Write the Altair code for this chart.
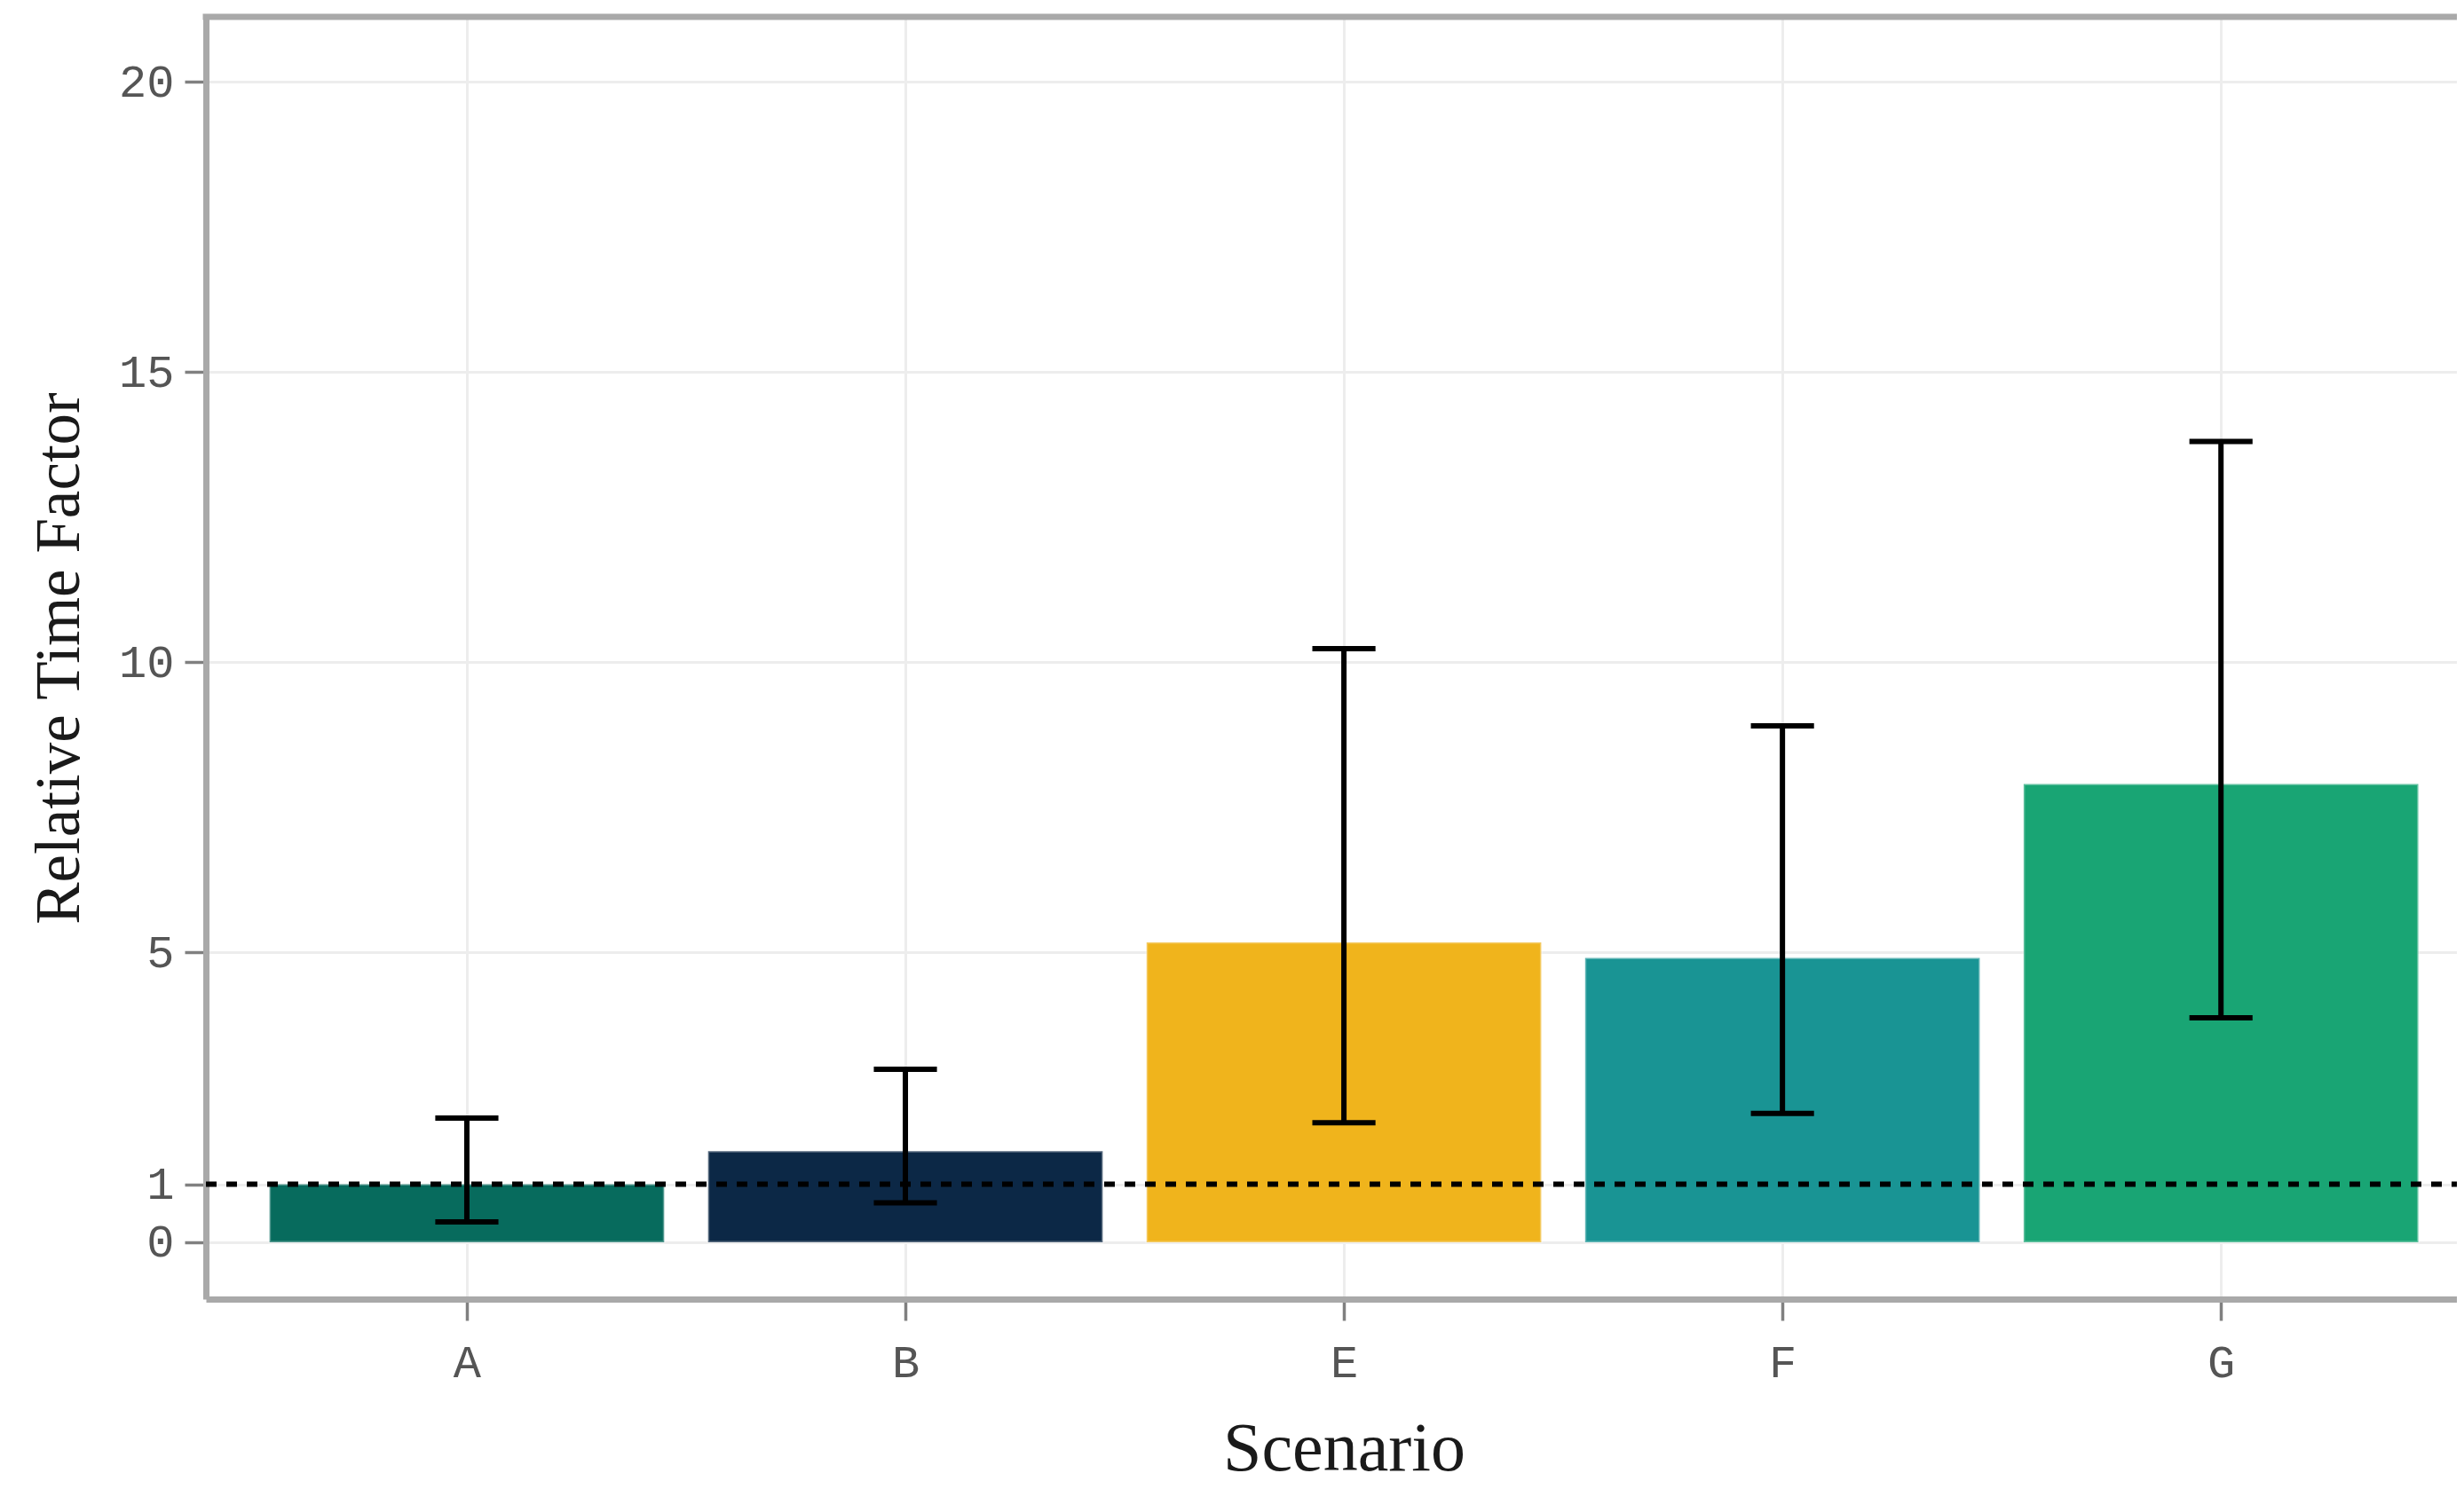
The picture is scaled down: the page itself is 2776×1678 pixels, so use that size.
import altair as alt
import pandas as pd

# ---- data ----
scenarios = ["A", "B", "E", "F", "G"]
time_factor = [1.0, 1.57, 5.17, 4.90, 7.90]
ci_low = [0.35, 0.68, 2.06, 2.22, 3.87]
ci_high = [2.14, 2.98, 10.23, 8.90, 13.80]
bar_colors = ["#076B5D", "#0C2846", "#F0B41C", "#199494", "#19A574"]
y_tick_values = [0, 1, 5, 10, 15, 20]
reference_level = [1]

# ---- layout ----
PLOT_W = 2536
PLOT_H = 1445
BORDER = "#A9A9A9"
GRID = "#EDEDED"

df = pd.DataFrame({
    "scenario": scenarios,
    "pos": list(range(len(scenarios))),
    "tf": time_factor,
    "lo": ci_low,
    "hi": ci_high,
})

label_expr = "[" + ",".join("'%s'" % s for s in scenarios) + "][datum.value]"

x_scale = alt.Scale(domain=[-0.595, 4.538], nice=False, zero=False)
y_scale = alt.Scale(domain=[-0.98, 21.12], nice=False, zero=False)

x_axis = alt.Axis(
    values=list(range(len(scenarios))), labelExpr=label_expr, title="Scenario",
    grid=True, titleX=1282, titleY=192, titleBaseline="alphabetic",
)
y_axis = alt.Axis(
    values=y_tick_values, format="d", title="Relative Time Factor", grid=True,
    titleX=-165, titleY=PLOT_H / 2, titleAngle=270, titleBaseline="middle",
    titleAlign="center",
)

base = alt.Chart(df)

bars = base.mark_bar(stroke="white", strokeOpacity=0.3, strokeWidth=3).transform_calculate(
    x0="datum.pos - 0.45", x1="datum.pos + 0.45"
).encode(
    x=alt.X("x0:Q", scale=x_scale, axis=x_axis),
    x2="x1:Q",
    y=alt.Y("tf:Q", scale=y_scale, axis=y_axis),
    y2=alt.datum(0),
    color=alt.Color("scenario:N", scale=alt.Scale(domain=scenarios, range=bar_colors), legend=None),
)

ref_line = alt.Chart(pd.DataFrame({"level": reference_level})).mark_rule(
    color="black", strokeWidth=6, strokeDash=[12, 11]
).encode(
    y=alt.Y("level:Q", scale=y_scale),
    x=alt.value(0),
    x2=alt.value(PLOT_W),
)

err_stem = base.mark_rule(color="black", strokeWidth=6).encode(
    x=alt.X("pos:Q", scale=x_scale),
    y=alt.Y("lo:Q", scale=y_scale),
    y2="hi:Q",
)

cap_hi = base.mark_rule(color="black", strokeWidth=6).transform_calculate(
    c0="datum.pos - 0.072", c1="datum.pos + 0.072"
).encode(
    x=alt.X("c0:Q", scale=x_scale), x2="c1:Q",
    y=alt.Y("hi:Q", scale=y_scale),
)

cap_lo = base.mark_rule(color="black", strokeWidth=6).transform_calculate(
    c0="datum.pos - 0.072", c1="datum.pos + 0.072"
).encode(
    x=alt.X("c0:Q", scale=x_scale), x2="c1:Q",
    y=alt.Y("lo:Q", scale=y_scale),
)

top_border = alt.Chart(pd.DataFrame({"edge": [0]})).mark_rule(
    color=BORDER, strokeWidth=7
).encode(
    x=alt.value(-3.5), x2=alt.value(PLOT_W), y=alt.value(0),
)

chart = alt.layer(bars, ref_line, err_stem, cap_hi, cap_lo, top_border).properties(
    width=PLOT_W,
    height=PLOT_H,
    autosize=alt.AutoSizeParams(type="none"),
    padding={"left": 224, "top": 11, "right": 0, "bottom": 214},
).configure_view(
    stroke=None
).configure_axis(
    labelFont="Liberation Mono",
    labelFontSize=52,
    labelColor="#555555",
    titleFont="Liberation Serif",
    titleFontSize=76,
    titleFontWeight="normal",
    titleColor="#1A1A1A",
    domainColor=BORDER,
    domainWidth=7,
    tickColor="#808080",
    tickWidth=3.5,
    tickSize=24,
    gridColor=GRID,
    gridWidth=3,
).configure_axisY(
    labelPadding=12,
    titleFontSize=71,
).configure_axisX(
    labelPadding=22,
    titleFontSize=78,
)

chart.save("out.html", embed_options={"renderer": "svg", "actions": False})
